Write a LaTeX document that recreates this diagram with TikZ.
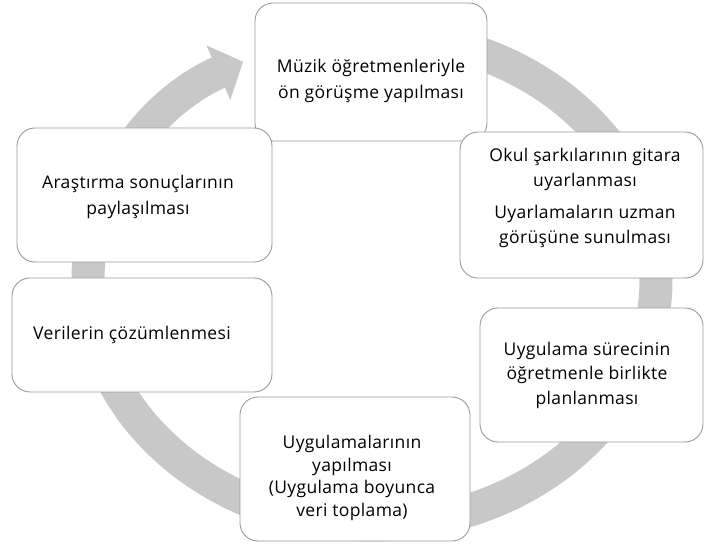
\documentclass[tikz,border=0pt]{standalone}
\usepackage{fontspec}
\setmainfont{Open Sans}[LetterSpace=2]
\usepackage{xcolor}
\usetikzlibrary{arrows.meta}

\definecolor{ringgray}{HTML}{C8C8C8}
\definecolor{boxline}{HTML}{9A9A9A}

\tikzset{
  box/.style={draw=boxline, fill=white, rounded corners=18pt, line width=0.9pt, inner sep=0pt},
  lbl/.style={align=center, inner sep=0pt, font=\fontsize{17.5}{24.5}\selectfont},
  ring/.style={draw=ringgray, line width=33pt, -{Triangle[width=58pt,length=27pt]}}
}

\begin{document}
\begin{tikzpicture}[x=1pt,y=1pt]
            \useasboundingbox (0,0) rectangle (705,544);
            % the cycle arrow
            \draw[ring] (372,509) arc[start angle=90, end angle=-243, x radius=284pt, y radius=245pt];
            % boxes
            \node[box, minimum width=232pt, minimum height=138pt] (onGorusme) at (371,472) {};
            \node[box, minimum width=255pt, minimum height=134pt] (paylasim) at (144.5,349) {};
            \node[box, minimum width=260pt, minimum height=114pt] (cozumleme) at (142,209) {};
            \node[box, minimum width=230pt, minimum height=144pt] (uygulama) at (355,75) {};
            \node[box, minimum width=223pt, minimum height=134pt] (planlama) at (591.5,169) {};
            \node[box, minimum width=243pt, minimum height=146pt] (uyarlama) at (581.5,339) {};
            % texts
            \node[lbl, font=\fontsize{17.5}{26}\selectfont] (onGorusmeText) at (371,463) {Müzik öğretmenleriyle\\ön görüşme yapılması};
            \node[lbl] (uyarlamaText) at (585,346) {Okul şarkılarının gitara\\uyarlanması\\[8pt]Uyarlamaların uzman\\görüşüne sunulması};
            \node[lbl] (planlamaText) at (587,169) {Uygulama sürecinin\\öğretmenle birlikte\\planlanması};
            \node[lbl, font=\fontsize{17.5}{22.5}\selectfont] (uygulamaText) at (352,66) {Uygulamalarının\\yapılması\\(Uygulama boyunca\\veri toplama)};
            \node[lbl] (cozumlemeText) at (132,209) {Verilerin çözümlenmesi};
            \node[lbl, font=\fontsize{17.5}{26}\selectfont] (paylasimText) at (138,347) {Araştırma sonuçlarının\\paylaşılması};
        \end{tikzpicture}
\end{document}
